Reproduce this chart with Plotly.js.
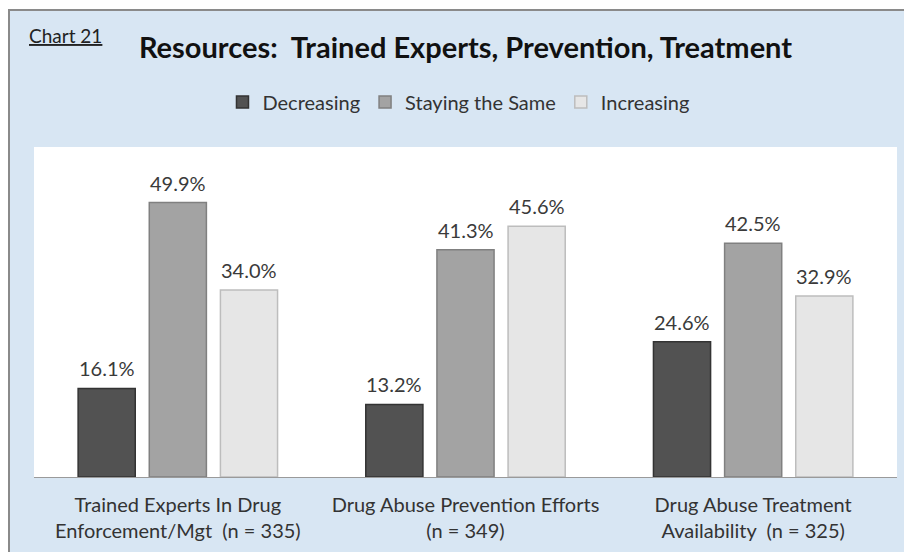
<!DOCTYPE html>
<html>
<head>
<meta charset="utf-8">
<script src="https://cdn.plot.ly/plotly-3.0.1.min.js"></script>
<style>
  html, body { margin: 0; padding: 0; background: #ffffff; width: 904px; height: 552px; overflow: hidden; }
  #chart { position: absolute; left: 8px; top: 9px; width: 894px; height: 541px;
           border-left: 2px solid #8a8a8a; border-top: 2px solid #8a8a8a; }
</style>
</head>
<body>
<div id="chart"></div>
<script>
const categories = [
  "Trained Experts In Drug<br>Enforcement/Mgt  (n = 335)",
  "Drug Abuse Prevention Efforts<br>(n = 349)",
  "Drug Abuse Treatment<br>Availability  (n = 325)"
];
const seriesNames = ["Decreasing", "Staying the Same", "Increasing"];
const decreasing = [16.1, 13.2, 24.6];
const stayingSame = [49.9, 41.3, 42.5];
const increasing = [34.0, 45.6, 32.9];

const FONT = "Lato, 'Open Sans', sans-serif";
const fills = ["#525252", "#a3a3a3", "#e6e6e6"];
const edges = ["#333333", "#808080", "#bdbdbd"];
const values = [decreasing, stayingSame, increasing];

const BARGAP = 0.258;
const slot = (1 - BARGAP) / 3;

const traces = values.map((v, i) => ({
  type: "bar",
  name: seriesNames[i],
  x: categories,
  y: v,
  marker: { color: fills[i], line: { color: edges[i], width: 1.5 } },
  hoverinfo: "none"
}));

// value labels drawn from the same data arrays
const labelAnns = [];
values.forEach((v, i) => {
  v.forEach((d, j) => {
    labelAnns.push({
      x: j + (i - 1) * slot, xref: "x",
      y: d, yref: "y",
      text: d.toFixed(1) + "%",
      showarrow: false, yanchor: "bottom", yshift: 6,
      font: { family: FONT, size: 20, color: "#3a3a3a" }
    });
  });
});

const W = 894, H = 541;
const layout = {
  width: W, height: H,
  margin: { l: 24, r: 7, t: 136, b: 75 },
  paper_bgcolor: "#d8e6f3",
  plot_bgcolor: "#ffffff",
  font: { family: FONT, color: "#333333" },
  barmode: "group",
  bargap: BARGAP,
  bargroupgap: 0.197,
  showlegend: true,
  legend: {
    orientation: "h", xref: "paper", x: 0.5 - 7 / 861, xanchor: "center",
    yref: "container", y: 1 - (102 - 11) / H, yanchor: "middle",
    font: { family: FONT, size: 20, color: "#333333" },
    bgcolor: "rgba(0,0,0,0)", itemwidth: 20, traceorder: "normal"
  },
  title: {
    text: "<b>Resources:  Trained Experts, Prevention, Treatment</b>",
    xref: "paper", x: 0.5, xanchor: "center",
    yref: "container", y: 1 - (48 - 11) / H, yanchor: "middle",
    font: { family: FONT, size: 29, color: "#111111" }
  },
  xaxis: {
    showline: true, linecolor: "#9a9a9a", linewidth: 1,
    ticks: "", showgrid: false, ticklabelstandoff: 10,
    tickfont: { family: FONT, size: 20, color: "#333333" }
  },
  yaxis: {
    range: [0, 60], visible: false, showgrid: false, zeroline: false, fixedrange: true
  },
  annotations: [{
    text: "<u>Chart 21</u>", showarrow: false,
    xref: "paper", x: (27 - 34) / (895 - 34), xanchor: "left",
    yref: "paper", y: 1 + (147 - 35) / (477 - 147), yanchor: "middle",
    font: { family: FONT, size: 19, color: "#222222" }
  }].concat(labelAnns)
};

Plotly.newPlot("chart", traces, layout, { displayModeBar: false, staticPlot: true });
</script>
</body>
</html>
